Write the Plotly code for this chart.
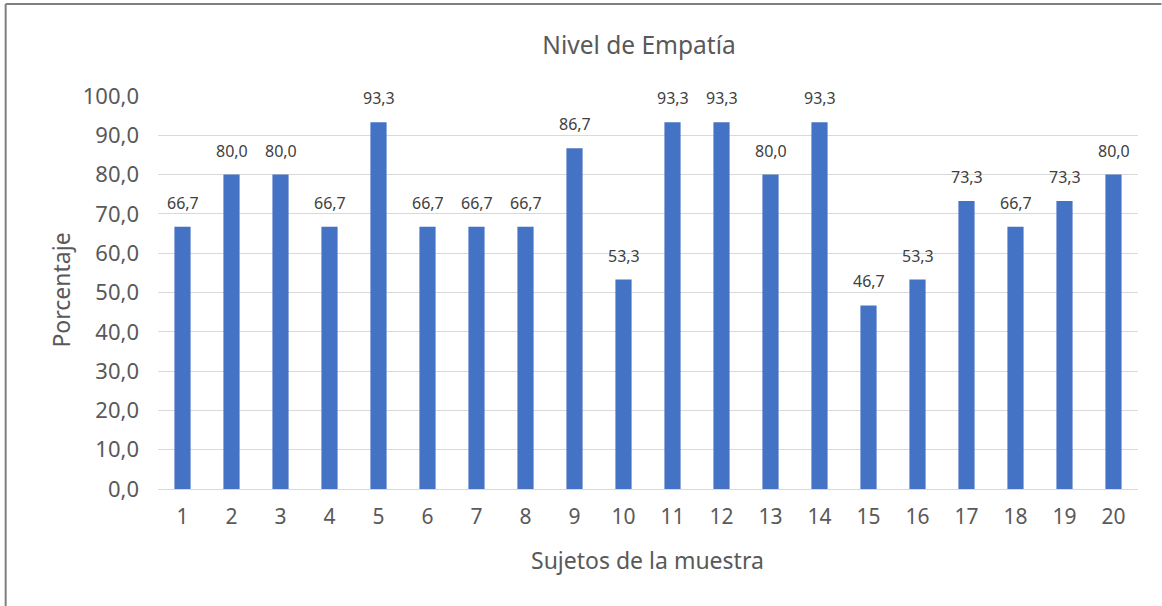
import plotly.graph_objects as go

sujetos = [str(i) for i in range(1, 21)]
porcentaje = [66.7, 80.0, 80.0, 66.7, 93.3, 66.7, 66.7, 66.7, 86.7, 53.3,
              93.3, 93.3, 80.0, 93.3, 46.7, 53.3, 73.3, 66.7, 73.3, 80.0]
y_ticks = [0, 10, 20, 30, 40, 50, 60, 70, 80, 90, 100]

FONT = "Noto Sans"
GRAY = "#595959"

fig = go.Figure()
fig.add_trace(go.Bar(x=sujetos, y=porcentaje, marker_color="#4472C4",
                     marker_line_width=0, hoverinfo="x+y"))

W, H = 1162, 606
L, R, T, B = 157.5, 23.5, 96, 117
pw, ph = W - L - R, H - T - B

def px(xp):
    return (xp - L) / pw

def py(yp):
    return (H - B - yp) / ph

annotations = [
    dict(x=i, y=v, xref="x", yref="y", text=f"{v:.1f}".replace(".", ","),
         showarrow=False, yshift=24, xanchor="center", yanchor="middle",
         font=dict(family=FONT, size=16, color="#404040"))
    for i, v in enumerate(porcentaje)
]
annotations += [
    dict(text="Sujetos de la muestra", x=px(647), y=py(560), xref="paper", yref="paper",
         xanchor="center", yanchor="middle",
         showarrow=False, font=dict(family=FONT, size=23, color=GRAY)),
    dict(text="Porcentaje", textangle=-90, showarrow=False, x=px(60), y=py(290),
         xanchor="center", yanchor="middle",
         xref="paper", yref="paper", font=dict(family=FONT, size=23, color=GRAY)),
]

fig.update_layout(
    width=W, height=H,
    margin=dict(l=L, r=R, t=T, b=B),
    paper_bgcolor="white", plot_bgcolor="white",
    separators=",.",
    showlegend=False,
    bargap=0.67,
    title=dict(text="Nivel de Empatía", x=639 / W, xanchor="center", xref="container",
               y=1 - 45 / H, yanchor="middle", yref="container",
               font=dict(family=FONT, size=24.5, color=GRAY)),
    xaxis=dict(type="category", showgrid=False, showline=False, ticks="",
               tickfont=dict(family=FONT, size=21, color=GRAY), ticklabelstandoff=13),
    yaxis=dict(range=[0, 100], tickvals=y_ticks, tickformat=".1f",
               showgrid=True, gridcolor="#d9d9d9", gridwidth=1,
               zeroline=True, zerolinecolor="#d9d9d9", zerolinewidth=1,
               showline=False, ticks="",
               tickfont=dict(family=FONT, size=22, color=GRAY), ticklabelstandoff=18),
    annotations=annotations,
    shapes=[
        dict(type="line", xref="paper", yref="paper", x0=px(5), x1=px(1162), y0=py(4), y1=py(4),
             line=dict(color="#7f7f7f", width=2)),
        dict(type="line", xref="paper", yref="paper", x0=px(5), x1=px(5), y0=py(4), y1=py(606),
             line=dict(color="#7f7f7f", width=2)),
    ],
)

fig.write_html("out.html", config={"displayModeBar": False},
               post_script="document.body.style.margin='0';document.body.style.overflow='hidden';")
